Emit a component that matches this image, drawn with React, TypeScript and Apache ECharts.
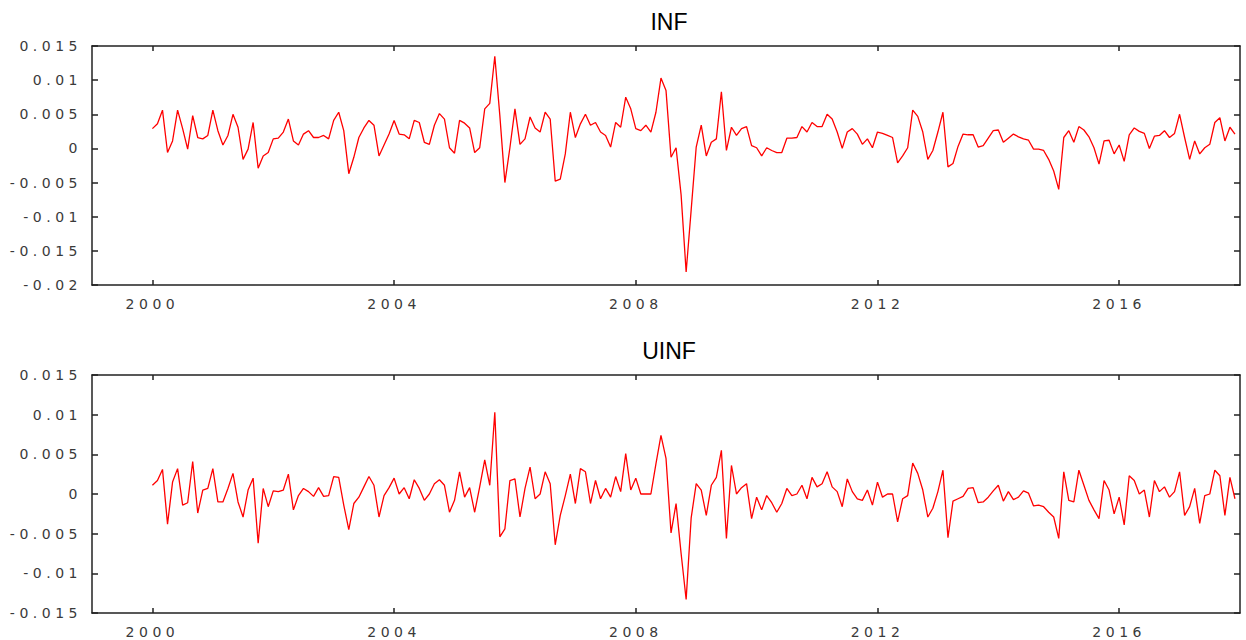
import React, { useEffect, useRef } from "react";
import * as echarts from "echarts";

const START_YEAR = 2000;
const X_MIN = 1999;
const X_MAX = 2018;
const xTickYears = [2000, 2004, 2008, 2012, 2016];
const titles = ["INF", "UINF"];
const yRanges = [
  { min: -0.02, max: 0.015 },
  { min: -0.015, max: 0.015 },
];

// monthly values, 2000-01 .. 2017-12
const inf = [
  0.0029, 0.0036, 0.0056, -0.0006, 0.0011, 0.0056, 0.0029, -0.0001, 0.0048, 0.0016, 0.0014, 0.0019,
  0.0056, 0.0026, 0.0005, 0.0019, 0.005, 0.0031, -0.0016, -0.0001, 0.0038, -0.0029, -0.0011, -0.0006,
  0.0014, 0.0015, 0.0024, 0.0043, 0.0011, 0.0005, 0.0021, 0.0026, 0.0016, 0.0016, 0.0019, 0.0014,
  0.0041, 0.0053, 0.0026, -0.0037, -0.0013, 0.0016, 0.003, 0.0041, 0.0034, -0.0011, 0.0005, 0.0021,
  0.0041, 0.0021, 0.002, 0.0014, 0.0041, 0.0038, 0.0009, 0.0006, 0.0034, 0.0051, 0.0043, 0.0001,
  -0.0007, 0.0041, 0.0037, 0.003, -0.0006, 0.0001, 0.0058, 0.0066, 0.0135, 0.0048, -0.005, 0.0001,
  0.0058, 0.0006, 0.0014, 0.0046, 0.003, 0.0024, 0.0053, 0.0043, -0.0048, -0.0045, -0.0008, 0.0053,
  0.0016, 0.0036, 0.005, 0.0034, 0.0038, 0.0024, 0.0019, 0.0002, 0.0038, 0.0031, 0.0075, 0.0058,
  0.0029, 0.0026, 0.0034, 0.0024, 0.0053, 0.0103, 0.0085, -0.0013, 0.0001, -0.0068, -0.0181, -0.009,
  0.0002, 0.0034, -0.0011, 0.0009, 0.0014, 0.0083, -0.0003, 0.0031, 0.0019, 0.0029, 0.0032, 0.0004,
  0.0001, -0.0011, 0.0001, -0.0003, -0.0006, -0.0006, 0.0015, 0.0015, 0.0016, 0.0032, 0.0024, 0.0038,
  0.0032, 0.0032, 0.005, 0.0043, 0.0024, 0.0, 0.0024, 0.0029, 0.0021, 0.0006, 0.0014, 0.0001,
  0.0024, 0.0022, 0.0019, 0.0016, -0.0021, -0.0011, 0.0001, 0.0056, 0.0047, 0.0024, -0.0016, -0.0003,
  0.0024, 0.0053, -0.0027, -0.0022, 0.0003, 0.0021, 0.002, 0.002, 0.0002, 0.0004, 0.0015, 0.0026,
  0.0027, 0.0009, 0.0015, 0.0021, 0.0017, 0.0014, 0.0012, -0.0001, -0.0001, -0.0003, -0.0016, -0.0033,
  -0.006, 0.0016, 0.0026, 0.0009, 0.0032, 0.0027, 0.0017, 0.0001, -0.0023, 0.0011, 0.0012, -0.0008,
  0.0005, -0.0019, 0.002, 0.003, 0.0025, 0.0022, 0.0, 0.0018, 0.0019, 0.0026, 0.0016, 0.0022,
  0.005, 0.0016, -0.0016, 0.0011, -0.0008, 0.0001, 0.0006, 0.0038, 0.0045, 0.0011, 0.0031, 0.0021,
];

const uinf = [
  0.0011, 0.0017, 0.0031, -0.0038, 0.0015, 0.0032, -0.0014, -0.0011, 0.0041, -0.0024, 0.0005, 0.0007,
  0.0032, -0.001, -0.001, 0.0007, 0.0026, -0.001, -0.0029, 0.0005, 0.002, -0.0062, 0.0007, -0.0016,
  0.0004, 0.0003, 0.0005, 0.0025, -0.002, -0.0002, 0.0007, 0.0003, -0.0003, 0.0008, -0.0003, -0.0002,
  0.0022, 0.0021, -0.0014, -0.0045, -0.0012, -0.0004, 0.0009, 0.0022, 0.0011, -0.0029, -0.0002, 0.0008,
  0.002, 0.0, 0.0008, -0.0006, 0.0018, 0.0007, -0.0008, 0.0, 0.0013, 0.0018, 0.0011, -0.0023,
  -0.0008, 0.0028, -0.0004, 0.0008, -0.0023, 0.0009, 0.0043, 0.0011, 0.0103, -0.0054, -0.0044, 0.0017,
  0.0019, -0.0029, 0.0007, 0.0034, -0.0006, 0.0, 0.0028, 0.0013, -0.0064, -0.0027, -0.0002, 0.0025,
  -0.0012, 0.0032, 0.0028, -0.0012, 0.0017, -0.0006, 0.0007, -0.0004, 0.0022, 0.0003, 0.0051, 0.0005,
  0.002, 0.0, 0.0, 0.0, 0.0038, 0.0074, 0.0045, -0.0049, -0.0012, -0.0075, -0.0133, -0.003,
  0.0013, 0.0005, -0.0027, 0.0011, 0.0021, 0.0055, -0.0056, 0.0036, 0.0, 0.0008, 0.0013, -0.0031,
  -0.0004, -0.002, -0.0002, -0.0011, -0.0023, -0.0012, 0.0007, -0.0002, 0.0, 0.0011, -0.0006, 0.0021,
  0.0009, 0.0013, 0.0028, 0.0009, 0.0003, -0.0016, 0.0019, 0.0003, -0.0006, -0.0008, 0.0005, -0.0014,
  0.0015, -0.0004, 0.0, 0.0, -0.0035, -0.0006, -0.0002, 0.0039, 0.0026, 0.0005, -0.0029, -0.0018,
  0.0003, 0.003, -0.0055, -0.0009, -0.0006, -0.0003, 0.0007, 0.0008, -0.0011, -0.001, -0.0004, 0.0004,
  0.0011, -0.0009, 0.0003, -0.0007, -0.0004, 0.0004, 0.0001, -0.0015, -0.0014, -0.0016, -0.0023, -0.0029,
  -0.0056, 0.0028, -0.0008, -0.001, 0.003, 0.0011, -0.0008, -0.002, -0.0031, 0.0017, 0.0005, -0.0025,
  -0.0004, -0.0039, 0.0023, 0.0017, 0.0, 0.0005, -0.0029, 0.0017, 0.0003, 0.0009, -0.0004, 0.0003,
  0.0028, -0.0027, -0.0016, 0.0007, -0.0037, -0.0002, 0.0, 0.003, 0.0023, -0.0027, 0.0021, -0.0006,
];

const seriesValues = [inf, uinf];

const toPoints = (vals: number[]) => vals.map((v, i) => [START_YEAR + i / 12, v]);
const fmtY = (v: number) => {
  const r = Math.round(v * 1000) / 1000;
  return r === 0 ? "0" : String(r);
};

const AXIS_COLOR = "#222";
const LABEL_COLOR = "#3a3a3a";
const LABEL_FONT = "DejaVu Sans";

export default function App() {
  const ref = useRef<HTMLDivElement>(null);

  useEffect(() => {
    if (!ref.current) return;
    const chart = echarts.init(ref.current, undefined, { renderer: "svg" });

    const grids = [
      { left: 92, top: 46, width: 1148, height: 239 },
      { left: 92, top: 375, width: 1148, height: 238 },
    ];

    const lineStyle = { color: AXIS_COLOR, width: 1.5 };
    const xAxes: any[] = [];
    const yAxes: any[] = [];
    grids.forEach((_, g) => {
      xAxes.push({
        type: "value",
        gridIndex: g,
        min: X_MIN,
        max: X_MAX,
        position: "bottom",
        axisLine: { show: true, onZero: false, lineStyle },
        axisTick: { show: true, inside: true, length: 5, customValues: xTickYears, lineStyle },
        axisLabel: {
          customValues: xTickYears,
          color: LABEL_COLOR,
          fontFamily: LABEL_FONT,
          fontSize: 14,
          margin: 12,
          formatter: (v: number) => String(v),
        },
        splitLine: { show: false },
      });
      xAxes.push({
        type: "value",
        gridIndex: g,
        min: X_MIN,
        max: X_MAX,
        position: "top",
        axisLine: { show: true, onZero: false, lineStyle },
        axisTick: { show: true, inside: true, length: 5, customValues: xTickYears, lineStyle },
        axisLabel: { show: false },
        splitLine: { show: false },
      });
      const r = yRanges[g];
      yAxes.push({
        type: "value",
        gridIndex: g,
        min: r.min,
        max: r.max,
        interval: 0.005,
        position: "left",
        axisLine: { show: true, onZero: false, lineStyle },
        axisTick: { show: true, inside: true, length: 6, lineStyle },
        axisLabel: {
          color: LABEL_COLOR,
          fontFamily: LABEL_FONT,
          fontSize: 14,
          margin: 10,
          formatter: fmtY,
        },
        splitLine: { show: false },
      });
      yAxes.push({
        type: "value",
        gridIndex: g,
        min: r.min,
        max: r.max,
        interval: 0.005,
        position: "right",
        axisLine: { show: true, onZero: false, lineStyle },
        axisTick: { show: true, inside: true, length: 6, lineStyle },
        axisLabel: { show: false },
        splitLine: { show: false },
      });
    });

    chart.setOption({
      animation: false,
      backgroundColor: "#fff",
      title: titles.map((t, g) => ({
        text: t,
        left: 664,
        top: g === 0 ? 5 : 334,
        textAlign: "center",
        textStyle: {
          fontFamily: "Liberation Sans",
          fontSize: 23,
          fontWeight: "normal",
          color: "#000",
        },
      })),
      grid: grids,
      xAxis: xAxes,
      yAxis: yAxes,
      series: seriesValues.map((vals, g) => ({
        type: "line",
        name: titles[g],
        xAxisIndex: g * 2,
        yAxisIndex: g * 2,
        showSymbol: false,
        symbol: "none",
        lineStyle: { color: "#ff0000", width: 1.3 },
        data: toPoints(vals),
      })),
    });

    return () => chart.dispose();
  }, []);

  return (
    <>
      <style>{`
        #chart-box svg text { letter-spacing: 4.5px; }
        #chart-box svg text[style*="Liberation"] { letter-spacing: normal; }
      `}</style>
      <div
        id="chart-box"
        ref={ref}
        style={{ position: "absolute", left: 0, top: 0, width: 1246, height: 640 }}
      />
    </>
  );
}
